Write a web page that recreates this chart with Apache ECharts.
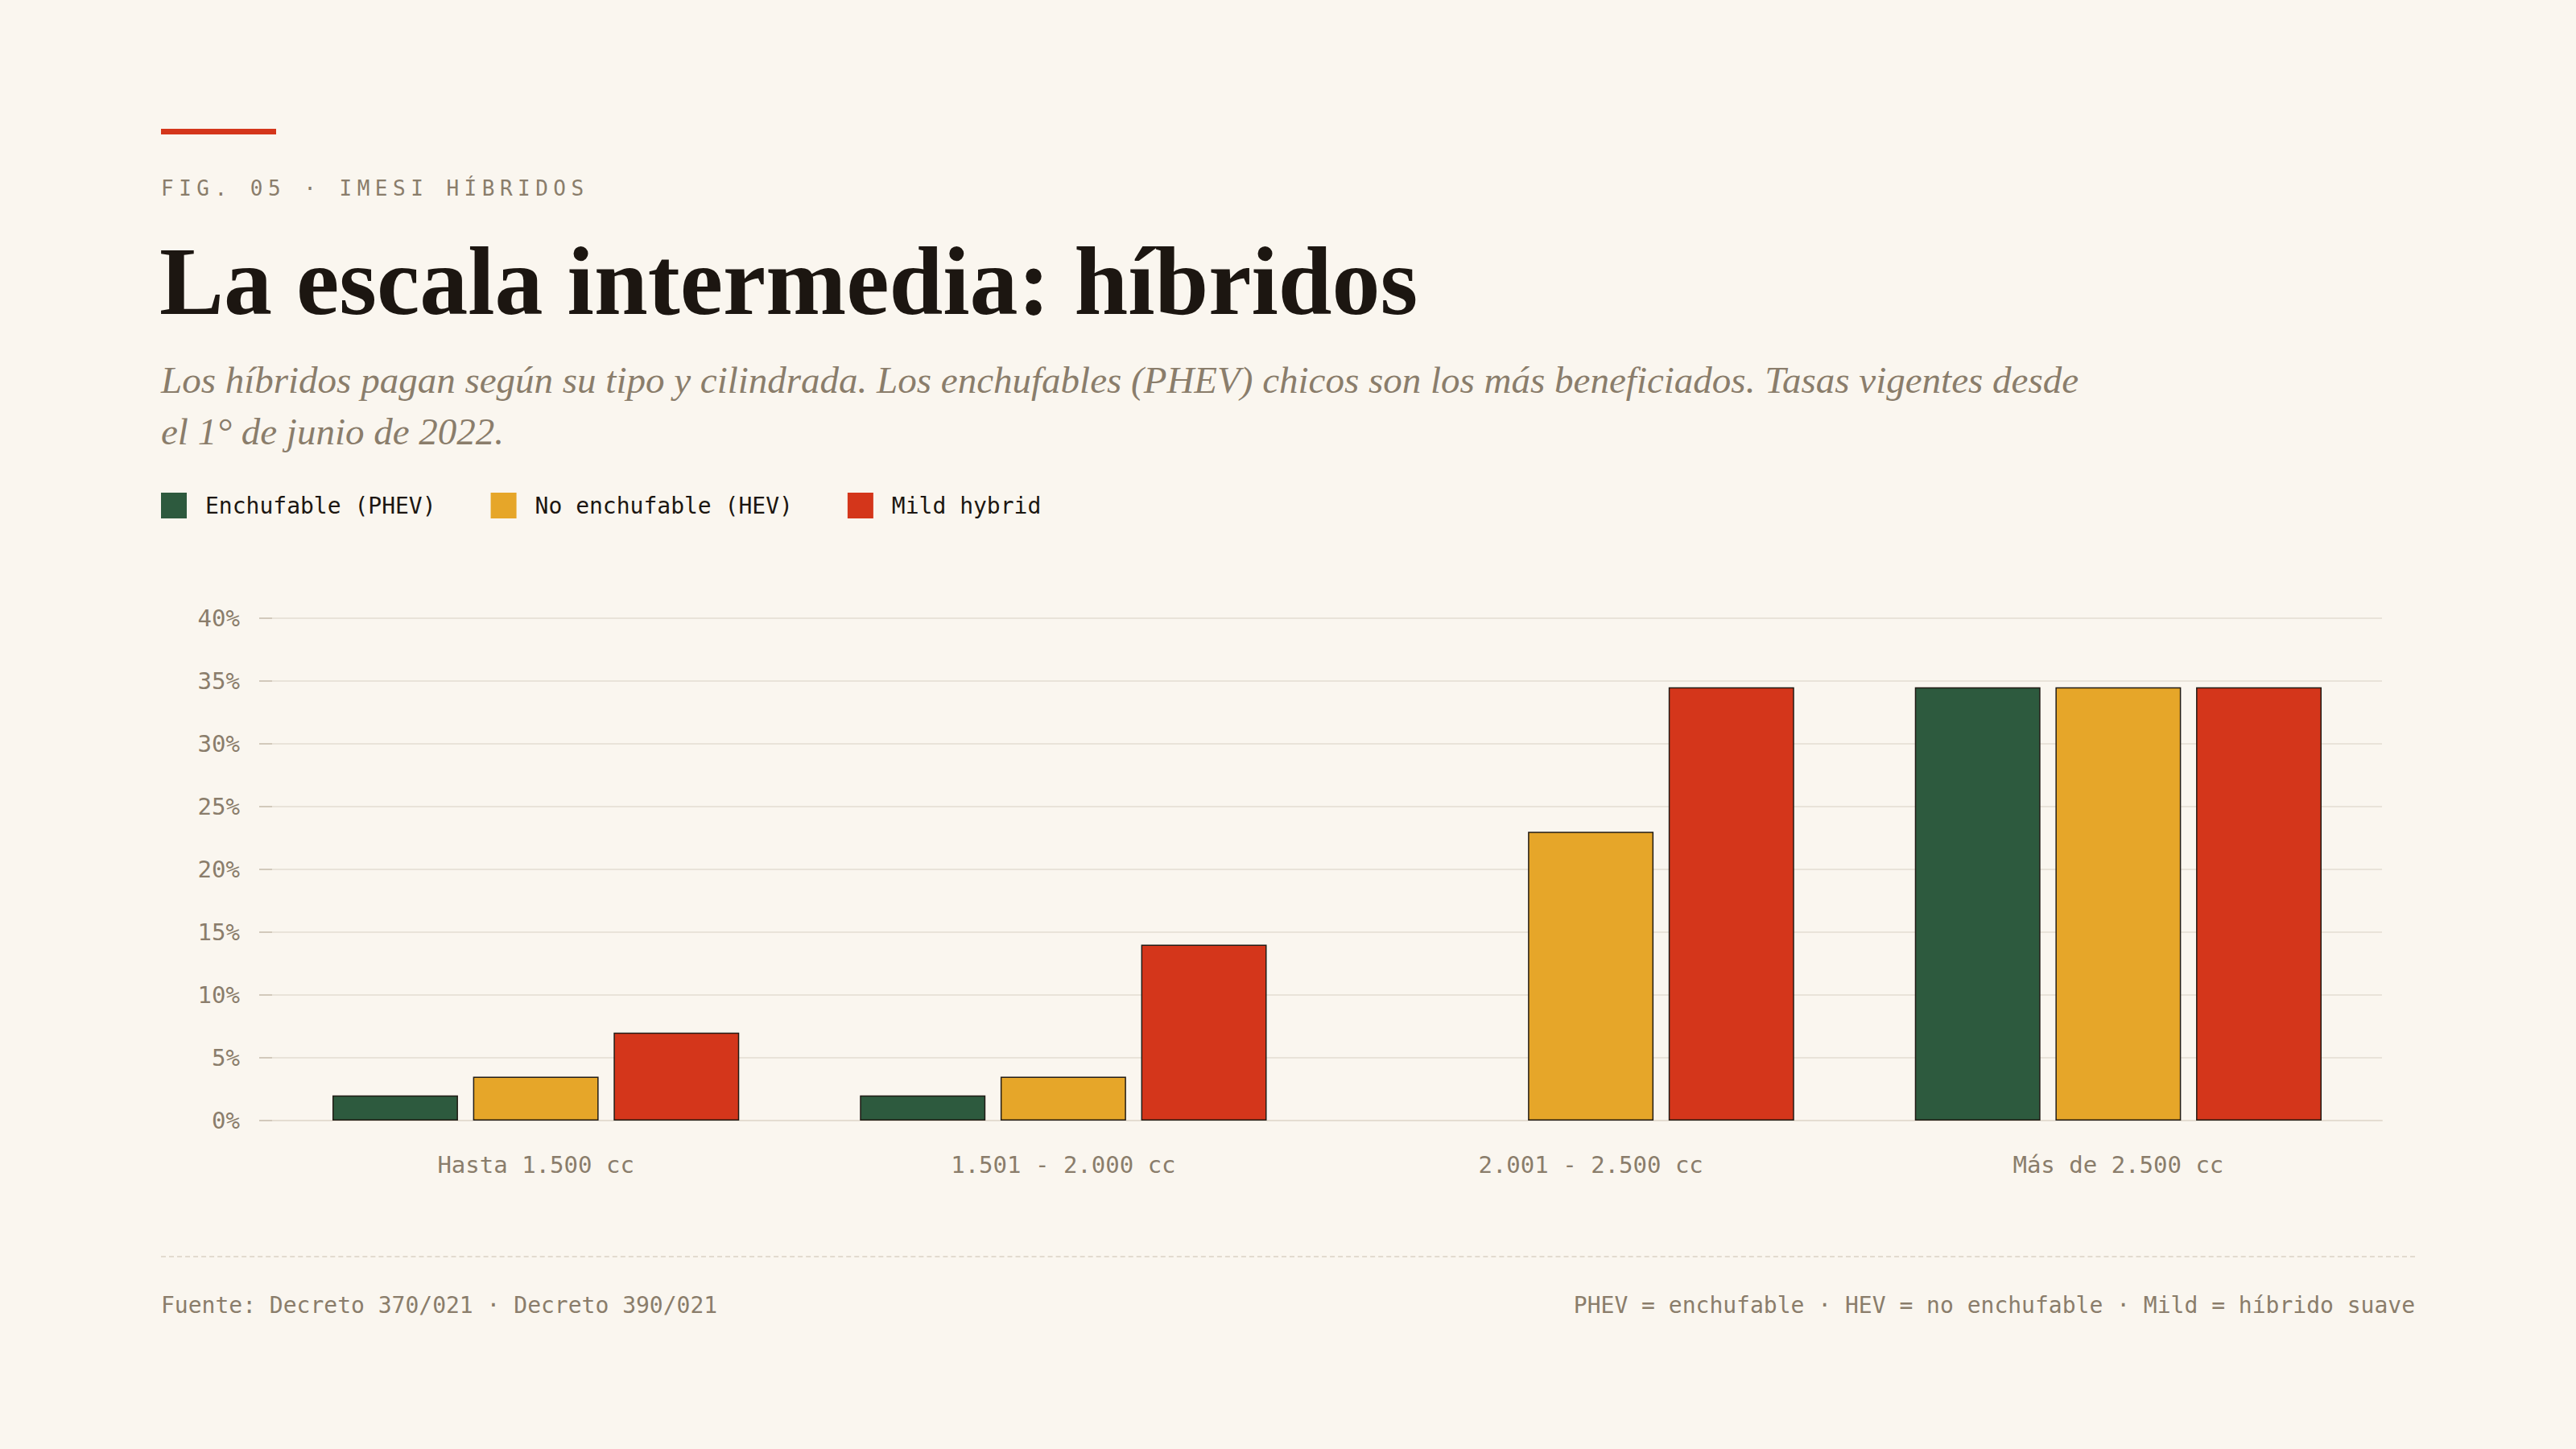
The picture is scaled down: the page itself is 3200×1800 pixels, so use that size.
<!DOCTYPE html>
<html lang="es">
<head>
<meta charset="utf-8">
<title>La escala intermedia: híbridos</title>
<script src="https://cdn.jsdelivr.net/npm/echarts@6/dist/echarts.min.js"></script>
<style>
	html, body { margin: 0; padding: 0; background: #faf6ef; }
	body { width: 3200px; height: 1800px; position: relative; overflow: hidden; }
	#chart { position: absolute; left: 0; top: 0; width: 3200px; height: 1800px; }
	.accent { position: absolute; left: 200px; top: 160px; width: 143px; height: 7px; background: #d4361b; }
	.kicker { position: absolute; left: 200px; top: 221px; font: 26px/1 'DejaVu Sans Mono', monospace; letter-spacing: 0.25em; color: #8a7d6b; white-space: nowrap; }
	.title { position: absolute; left: 198px; top: 290px; font: 700 120px/1 'Liberation Serif', serif; color: #1c1611; letter-spacing: 0; white-space: nowrap; margin: 0; }
	.subtitle { position: absolute; left: 200px; top: 440px; font: italic 47px/64px 'Liberation Serif', serif; color: #8a7d6b; white-space: nowrap; margin: 0; }
	.rule { position: absolute; left: 200px; top: 1560px; width: 2800px; border-top: 2px dashed #e2dbcf; }
	.foot { position: absolute; top: 1608px; font: 28px/1 'DejaVu Sans Mono', monospace; color: #8a7d6b; white-space: nowrap; }
	.foot.left { left: 200px; }
	.foot.right { right: 200px; }
</style>
</head>
<body>
<div id="chart"></div>
<div class="accent"></div>
<div class="kicker">FIG. 05 · IMESI HÍBRIDOS</div>
<h1 class="title">La escala intermedia: híbridos</h1>
<p class="subtitle">Los híbridos pagan según su tipo y cilindrada. Los enchufables (PHEV) chicos son los más beneficiados. Tasas vigentes desde<br>el 1° de junio de 2022.</p>
<div class="rule"></div>
<div class="foot left">Fuente: Decreto 370/021 · Decreto 390/021</div>
<div class="foot right">PHEV = enchufable · HEV = no enchufable · Mild = híbrido suave</div>
<script>
	/* datos: tasa IMESI (%) por tramo de cilindrada */
	const categories = ['Hasta 1.500 cc', '1.501 - 2.000 cc', '2.001 - 2.500 cc', 'Más de 2.500 cc'];
	const phev = [2, 2, null, 34.5];
	const hev = [3.5, 3.5, 23, 34.5];
	const mild = [7, 14, 34.5, 34.5];
	const yTicks = [0, 5, 10, 15, 20, 25, 30, 35, 40];

	const mono = "'DejaVu Sans Mono', monospace";
	const muted = '#8a7d6b';

	const barSeries = (name, color, data) => ({
		name,
		type: 'bar',
		data,
		barWidth: '23.8%',
		barGap: '12%',
		itemStyle: {
			color,
			borderColor: '#221c16',
			borderWidth: 1.5
		}
	});

	const chart = echarts.init(document.getElementById('chart'), null, { renderer: 'svg' });
	chart.setOption({
		backgroundColor: 'transparent',
		animation: false,
		color: ['#2d5a3e', '#e6a629', '#d4361b'],
		legend: {
			left: 200,
			top: 612,
			padding: 0,
			icon: 'rect',
			itemWidth: 32,
			itemHeight: 32,
			itemGap: 68,
			itemStyle: { borderWidth: 0 },
			textStyle: {
				fontFamily: mono,
				fontSize: 28,
				color: '#1c1611',
				padding: [0, 0, 0, 18]
			}
		},
		grid: {
			left: 338,
			right: 241,
			top: 768,
			bottom: 408,
			containLabel: false
		},
		xAxis: {
			type: 'category',
			data: categories,
			axisTick: { show: false },
			axisLine: { lineStyle: { color: '#e4ddd1', width: 2 } },
			axisLabel: {
				margin: 40,
				fontFamily: mono,
				fontSize: 29,
				color: muted
			}
		},
		yAxis: {
			type: 'value',
			min: yTicks[0],
			max: yTicks[yTicks.length - 1],
			interval: yTicks[1] - yTicks[0],
			axisLine: { show: false },
			axisTick: { show: true, length: 16, lineStyle: { color: '#d2c9bb', width: 2 } },
			splitLine: { lineStyle: { color: '#e9e3d9', width: 2 } },
			axisLabel: {
				margin: 40,
				fontFamily: mono,
				fontSize: 29,
				color: muted,
				formatter: '{value}%'
			}
		},
		series: [
			barSeries('Enchufable (PHEV)', '#2d5a3e', phev),
			barSeries('No enchufable (HEV)', '#e6a629', hev),
			barSeries('Mild hybrid', '#d4361b', mild)
		]
	});
</script>
</body>
</html>
